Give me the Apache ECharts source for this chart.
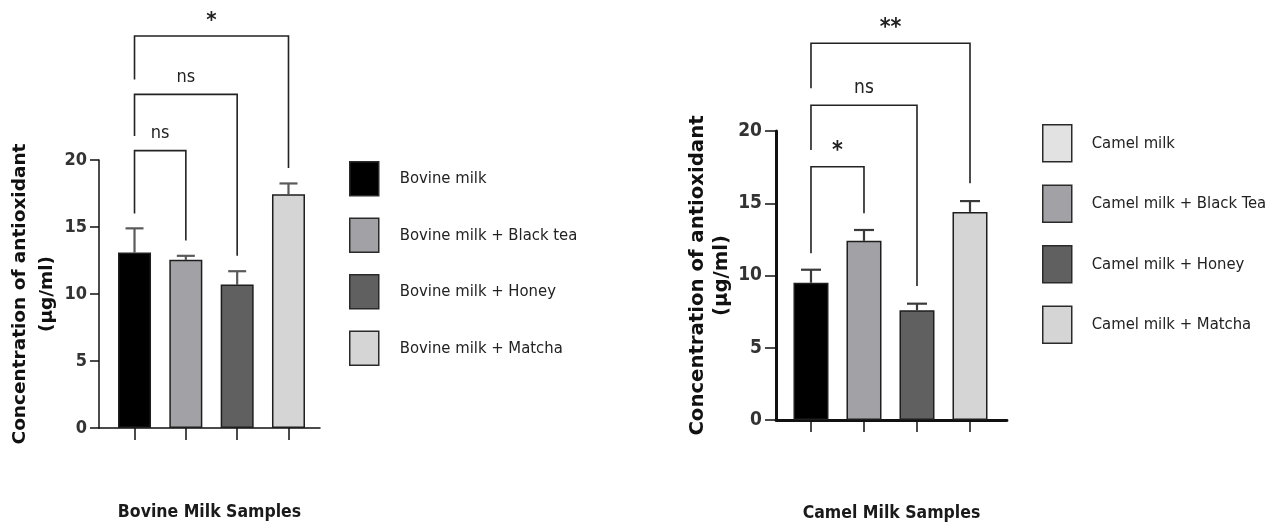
<!DOCTYPE html>
<html>
<head>
<meta charset="utf-8">
<script src="https://cdn.jsdelivr.net/npm/echarts@6/dist/echarts.min.js"></script>
<style>
html,body{margin:0;padding:0;background:#fff;}
#c{width:1274px;height:527px;}
</style>
</head>
<body>
<div id="c"></div>
<script>
// ---------- DATA ----------
var bovineCategories = ['Bovine milk', 'Bovine milk + Black tea', 'Bovine milk + Honey', 'Bovine milk + Matcha'];
var bovineMeans = [13.1, 12.55, 10.7, 17.45];
var bovineErrors = [1.8, 0.3, 1.0, 0.8];
var camelCategories = ['Camel milk', 'Camel milk + Black Tea', 'Camel milk + Honey', 'Camel milk + Matcha'];
var camelMeans = [9.5, 12.4, 7.6, 14.4];
var camelErrors = [0.9, 0.75, 0.45, 0.75];
var yTicks = [0, 5, 10, 15, 20];
// brackets: [from group, to group, bracket height, left leg end, right leg end]
var bovineBrackets = [[1, 2, 20.7, 16.0, 14.0], [1, 3, 24.9, 21.8, 12.85], [1, 4, 29.25, 26.0, 19.4]];
var bovineBracketLabels = ['ns', 'ns', '*'];
var camelBrackets = [[1, 2, 17.53, 11.54, 14.3], [1, 3, 21.78, 18.69, 9.27], [1, 4, 26.07, 22.95, 16.38]];
var camelBracketLabels = ['*', 'ns', '**'];
var bovineTitle = 'Bovine Milk Samples';
var camelTitle = 'Camel Milk Samples';
var yTitle = 'Concentration of antioxidant\n(µg/ml)';

// ---------- STYLE ----------
var barColors = ['#000000', '#a2a1a6', '#606060', '#d5d5d5'];
var camelLegendColors = ['#e2e2e2', '#a2a1a6', '#606060', '#d5d5d5'];
var NARROW = "'Liberation Sans Narrow', 'DejaVu Sans Condensed', 'Liberation Sans', sans-serif";

var chart = echarts.init(document.getElementById('c'), null, {renderer: 'canvas'});

function makeBars(cats, means, gridIdx, bw) {
  return cats.map(function (name, i) {
    return {
      type: 'bar', name: name, xAxisIndex: gridIdx, yAxisIndex: gridIdx,
      data: [[i + 1, means[i]]], barWidth: bw, barGap: '-100%',
      itemStyle: {color: barColors[i], borderColor: '#1e1e1e', borderWidth: 1.5},
      emphasis: {disabled: true}, z: 2
    };
  });
}

function makeErr(means, errs, gridIdx, cap, col) {
  return {
    type: 'custom', xAxisIndex: gridIdx, yAxisIndex: gridIdx, z: 1,
    data: means.map(function (m, i) { return [i + 1, m, m + errs[i]]; }),
    renderItem: function (params, api) {
      var p0 = api.coord([api.value(0), api.value(1)]);
      var p1 = api.coord([api.value(0), api.value(2)]);
      var st = {stroke: col, lineWidth: 2.2};
      return {type: 'group', children: [
        {type: 'line', shape: {x1: p0[0], y1: p0[1], x2: p1[0], y2: p1[1]}, style: st},
        {type: 'line', shape: {x1: p1[0] - cap, y1: p1[1], x2: p1[0] + cap, y2: p1[1]}, style: st}
      ]};
    }
  };
}

function makeBrackets(br, labels, gridIdx, fs) {
  return {
    type: 'custom', xAxisIndex: gridIdx, yAxisIndex: gridIdx, clip: false, z: 3,
    data: br.map(function (b, i) { return b.concat([i]); }),
    renderItem: function (params, api) {
      var a = api.value(0), b = api.value(1), h = api.value(2), le = api.value(3), re = api.value(4);
      var lab = labels[api.value(5)];
      var pA = api.coord([a, le]), pB = api.coord([a, h]), pC = api.coord([b, h]), pD = api.coord([b, re]);
      var star = lab.indexOf('*') >= 0;
      return {type: 'group', children: [
        {type: 'polyline', shape: {points: [pA, pB, pC, pD]}, style: {stroke: '#222', lineWidth: 1.6, fill: null}},
        {type: 'text', x: (pB[0] + pC[0]) / 2, y: pB[1] - (star ? 4 : 8),
          style: {text: lab, align: 'center', verticalAlign: 'bottom', fill: '#222',
            font: (star ? 'bold ' + (fs + 4) + 'px ' : fs + 'px ') + NARROW}}
      ]};
    }
  };
}

function makeX(idx, min, max, title, gap, fs) {
  return {
    type: 'value', gridIndex: idx, min: min, max: max,
    axisLine: {show: true, lineStyle: {color: '#111', width: idx ? 2.8 : 1.5}},
    axisTick: {show: true, customValues: [1, 2, 3, 4], length: 12, lineStyle: {color: '#111', width: 1.5}},
    axisLabel: {show: false}, splitLine: {show: false},
    name: title, nameLocation: 'middle', nameGap: gap,
    nameTextStyle: {fontFamily: NARROW, fontWeight: 'bold', fontSize: fs, color: '#1a1a1a'}
  };
}

function makeY(idx, gap, fs, nfs, lh, margin, tl, lw) {
  return {
    type: 'value', gridIndex: idx, min: 0, max: 20, interval: 5,
    axisLine: {show: true, lineStyle: {color: '#111', width: lw}},
    axisTick: {show: true, length: tl, lineStyle: {color: '#111', width: 1.5}},
    axisLabel: {fontFamily: NARROW, fontSize: fs, fontWeight: 'bold', color: '#333', margin: margin,
      customValues: yTicks},
    splitLine: {show: false},
    name: yTitle, nameLocation: 'middle', nameRotate: 90, nameGap: gap,
    nameTextStyle: {fontFamily: "'DejaVu Sans', sans-serif", fontWeight: 'bold', fontSize: nfs,
      color: '#111', lineHeight: lh}
  };
}

function legendData(cats, colors) {
  return cats.map(function (n, i) {
    return {name: n, itemStyle: {color: colors[i], borderColor: '#2a2a2a', borderWidth: 1.5}};
  });
}

var option = {
  animation: false,
  backgroundColor: '#fff',
  grid: [
    {left: 99, top: 160, right: 1274 - 320, bottom: 527 - 428},
    {left: 776, top: 131, right: 1274 - 1007, bottom: 527 - 420}
  ],
  xAxis: [
    makeX(0, 0.308, 4.614, bovineTitle, 75, 17.5),
    makeX(1, 0.34, 4.698, camelTitle, 84, 17.5)
  ],
  yAxis: [
    makeY(0, 36, 18, 18.5, 27, 12, 9, 1.5),
    makeY(1, 42, 19, 19.7, 24, 14, 11, 3)
  ],
  legend: [
    {orient: 'vertical', left: 349, top: 161, padding: 0, icon: 'rect', itemWidth: 29, itemHeight: 34, itemGap: 21,
      selectedMode: false, data: legendData(bovineCategories, barColors),
      textStyle: {fontFamily: NARROW, fontSize: 16.5, color: '#222', padding: [0, 0, 0, 16]}},
    {orient: 'vertical', left: 1042, top: 124, padding: 0, icon: 'rect', itemWidth: 29, itemHeight: 37, itemGap: 22,
      selectedMode: false, data: legendData(camelCategories, camelLegendColors),
      textStyle: {fontFamily: NARROW, fontSize: 16.5, color: '#222', padding: [0, 0, 0, 15]}}
  ],
  series: []
    .concat(makeBars(bovineCategories, bovineMeans, 0, 33))
    .concat(makeBars(camelCategories, camelMeans, 1, 35))
    .concat([
      makeErr(bovineMeans, bovineErrors, 0, 9, '#5a5a5a'),
      makeErr(camelMeans, camelErrors, 1, 10, '#3a3a3a'),
      makeBrackets(bovineBrackets, bovineBracketLabels, 0, 18),
      makeBrackets(camelBrackets, camelBracketLabels, 1, 19)
    ])
};
chart.setOption(option);
</script>
</body>
</html>
